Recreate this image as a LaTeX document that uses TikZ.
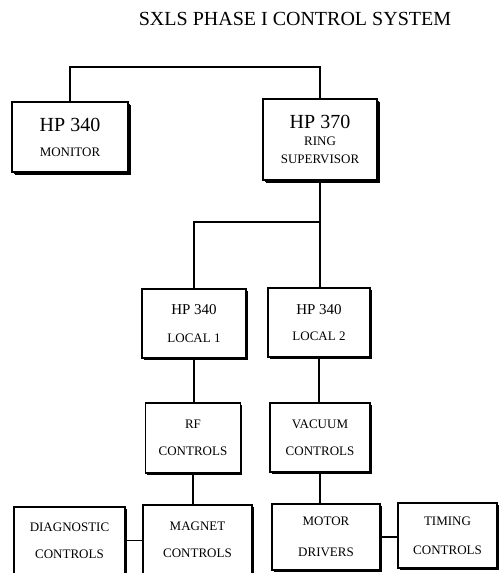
\documentclass[tikz,border=0pt]{standalone}
\usepackage{fontspec}
\setmainfont{Liberation Serif}
\usetikzlibrary{shadows}
\tikzset{
  unitbox/.style={draw=black, fill=white, line width=1.3pt, inner sep=0pt, align=center,
    font=\fontsize{13}{15}\selectfont,
    drop shadow={shadow xshift=1.6pt, shadow yshift=-1.6pt, opacity=1, fill=black}},
  hostbox/.style={unitbox,
    drop shadow={shadow xshift=2.6pt, shadow yshift=-2.6pt, opacity=1, fill=black}},
  wire/.style={line width=1.4pt, draw=black}
}
\newcommand\hpbig{\fontsize{20}{22}\selectfont}
\newcommand\hpmid{\fontsize{15}{17}\selectfont}

\begin{document}
\begin{tikzpicture}[x=1pt, y=-1pt]
    \useasboundingbox (0,0) rectangle (499,573);
    \clip (0,0) rectangle (499,573);

    \node[font=\fontsize{20}{22}\selectfont] (title) at (295,19) {SXLS PHASE I CONTROL SYSTEM};

    \node[hostbox, minimum width=116, minimum height=70] (mon) at (70,137) {{\hpbig HP 340}\\[10pt]MONITOR};
    \node[hostbox, minimum width=114, minimum height=81] (sup) at (320,139.5) {{\hpbig HP 370}\\[2.5pt]RING\\[3pt]SUPERVISOR};
    \node[unitbox, minimum width=104, minimum height=69] (loc1) at (194,323.5) {{\hpmid HP 340}\\[13pt]LOCAL 1};
    \node[unitbox, minimum width=102, minimum height=69] (loc2) at (319,322.5) {{\hpmid HP 340}\\[11pt]LOCAL 2};
    \node[unitbox, minimum width=95, minimum height=70] (rf) at (193,438) {RF\\[12pt]CONTROLS};
    \node[unitbox, minimum width=100, minimum height=69] (vac) at (320,437.5) {VACUUM\\[12pt]CONTROLS};
    \node[unitbox, minimum width=111, minimum height=67] (diag) at (69.5,540.5) {DIAGNOSTIC\\[12pt]CONTROLS};
    \node[unitbox, minimum width=109, minimum height=69] (mag) at (197.5,539.5) {MAGNET\\[12pt]CONTROLS};
    \node[unitbox, minimum width=108, minimum height=66] (mot) at (326,537) {MOTOR\\[16pt]DRIVERS};
    \node[unitbox, minimum width=99, minimum height=65] (tim) at (447.5,535.5) {TIMING\\[14pt]CONTROLS};

    % bus lines
    \coordinate (topbus) at (0,67);
    \coordinate (split) at (0,222);
    \draw[wire] (mon.north) -- (mon.north |- topbus) -- (sup.north |- topbus) -- (sup.north);
    \draw[wire] (sup.south) -- (sup.south |- loc2.north);
    \draw[wire] (sup.south |- split) -- (loc1.north |- split) -- (loc1.north);

    \draw[wire] (loc1.south) -- (loc1.south |- rf.north);
    \draw[wire] (loc2.south) -- (loc2.south |- vac.north);
    \draw[wire] (rf.south) -- (rf.south |- mag.north);
    \draw[wire] (vac.south) -- (vac.south |- mot.north);
    \draw[wire] (diag.east) -- (diag.east -| mag.west);
    \draw[wire] (mot.east) -- (mot.east -| tim.west);
  \end{tikzpicture}
\end{document}
